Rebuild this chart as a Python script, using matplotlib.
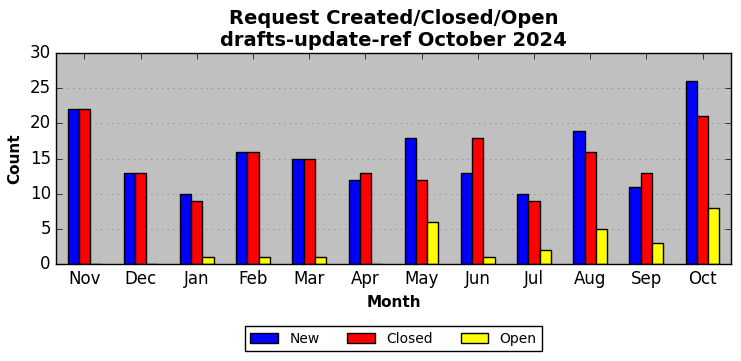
import numpy as np
import matplotlib
matplotlib.use("Agg")
import matplotlib.pyplot as plt

months = ["Nov", "Dec", "Jan", "Feb", "Mar", "Apr", "May", "Jun", "Jul", "Aug", "Sep", "Oct"]
new = [22, 13, 10, 16, 15, 12, 18, 13, 10, 19, 11, 26]
closed = [22, 13, 9, 16, 15, 13, 12, 18, 9, 16, 13, 21]
open_ = [0, 0, 1, 1, 1, 0, 6, 1, 2, 5, 3, 8]

plt.style.use("classic")
fig, ax = plt.subplots(figsize=(7.41, 3.61), dpi=100)
ax.set_facecolor("#c0c0c0")

x = np.arange(len(months))
w = 0.2
ax.bar(x - w, new, w, color="blue", edgecolor="black", label="New", align="center")
ax.bar(x, closed, w, color="red", edgecolor="black", label="Closed", align="center")
ax.bar(x + w, open_, w, color="yellow", edgecolor="black", label="Open", align="center")

ax.set_xlim(-0.5, len(months) - 0.5)
ax.set_ylim(0, 30)
ax.set_xticks(x)
ax.set_xticklabels(months)
ax.yaxis.grid(True, linestyle=":", color="gray")
ax.set_axisbelow(True)

ax.set_title("Request Created/Closed/Open\ndrafts-update-ref October 2024", fontsize=14, fontweight="bold")
ax.set_xlabel("Month", fontweight="bold", fontsize=11)
ax.set_ylabel("Count", fontweight="bold", fontsize=11)
ax.legend(loc="upper center", bbox_to_anchor=(0.5, -0.26), ncol=3, fontsize=10)

fig.subplots_adjust(left=0.076, right=0.986, top=0.853, bottom=0.268)
fig.savefig("out.png", dpi=100)
